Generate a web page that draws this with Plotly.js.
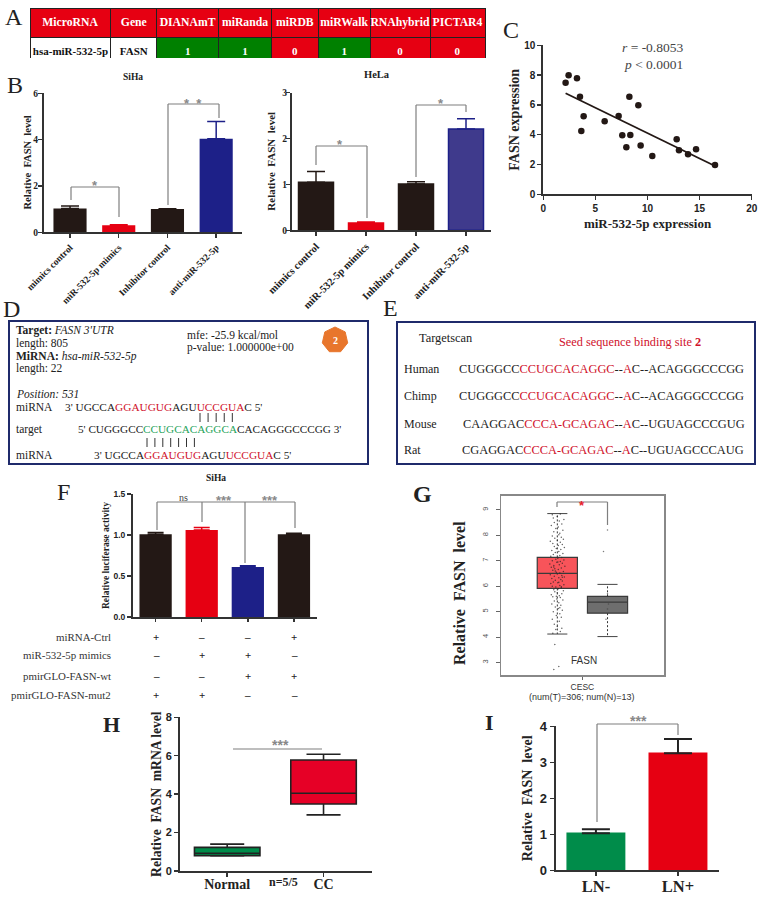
<!DOCTYPE html>
<html>
<head>
<meta charset="utf-8">
<script src="https://cdn.plot.ly/plotly-3.0.1.min.js"></script>
<style>body{margin:0;background:#fff}#fig{width:761px;height:897px}</style>
</head>
<body>
<div id="fig"></div>
<script>
// DATA
// A: prediction table
let table_headers = ["MicroRNA", "Gene", "DIANAmT", "miRanda", "miRDB", "miRWalk", "RNAhybrid", "PICTAR4"]
let table_row = ["hsa-miR-532-5p", "FASN", "1", "1", "0", "1", "0", "0"]
let table_widths = [81, 46, 62, 53, 47, 52, 60, 55]

// B: qPCR bars
let b_categories = ["mimics control", "miR-532-5p mimics", "Inhibitor control", "anti-miR-532-5p"]
let siha_values = [1.03, 0.30, 1.01, 4.04]
let siha_errors = [0.11, 0.03, 0.01, 0.74]
let hela_values = [1.05, 0.16, 1.01, 2.21]
let hela_errors = [0.23, 0.02, 0.05, 0.22]

// C: correlation
let c_mir = [2.14, 2.43, 3.23, 3.52, 3.87, 3.65, 5.89, 7.23, 7.58, 8.35, 8.26, 9.12, 7.97, 9.34, 10.46, 12.8, 13.02, 13.89, 14.66, 16.48]
let c_fasn = [7.49, 7.99, 7.79, 6.55, 5.23, 4.25, 4.9, 5.26, 3.96, 3.98, 6.55, 5.97, 3.15, 3.27, 2.57, 3.69, 2.95, 2.68, 3.02, 1.97]
let c_fit_x = [2.14, 16.48]
let c_fit_y = [6.78, 1.9]

// F: luciferase
let f_categories = ["Group 1", "Group 2", "Group 3", "Group 4"]
let f_values = [1.01, 1.06, 0.61, 1.01]
let f_errors = [0.02, 0.03, 0.015, 0.01]
let f_row_labels = ["miRNA-Ctrl", "miR-532-5p mimics", "pmirGLO-FASN-wt", "pmirGLO-FASN-mut2"]
let f_row_marks = [["+", "–", "–", "+"], ["–", "+", "+", "–"], ["–", "–", "+", "+"], ["+", "+", "–", "–"]]

// G: GEPIA box plot
let g_q1 = [5.91, 4.94]
let g_median = [6.5, 5.37]
let g_q3 = [7.13, 5.6]
let g_lower = [4.12, 4.02]
let g_upper = [8.85, 6.07]
let g_tumor_x = [-0.05, -0.07, 0.03, -0.09, 0.06, -0.03, 0.09, 0, -0.06, 0.04, -0.1, 0.08, -0.02, 0.05, -0.08, 0.1, 0.02, -0.04, 0.07, -0.11,
  0.03, -0.06, 0.11, -0.01, 0.06, -0.09, 0.04, -0.12, 0.09, 0, -0.05, 0.12, -0.07, 0.02, 0.08, -0.03, -0.1, 0.05, 0.13, -0.13,
  0.01, -0.08, 0.1, -0.04, 0.07, -0.11, 0.03, 0.14, -0.06, 0.09, -0.14, 0, 0.05, -0.02, 0.12, -0.09, 0.02, -0.05, 0.08, -0.12,
  0.15, -0.07, 0.04, -0.15, 0.1, -0.01, 0.06, -0.1, 0.13, -0.03, 0.01, 0.09, -0.13, 0.05, -0.08, 0.11, -0.04, 0.03, -0.11, 0.07,
  -0.02, 0.14, -0.06, 0.02, 0.1, -0.09, 0.06, -0.14, 0, 0.12, -0.05, 0.08, -0.1, 0.03, 0.05, -0.07, 0.11, -0.03, 0.02, -0.12,
  0.09, -0.06, 0.04, 0.13, -0.08, 0, -0.1, 0.06, 0.1, -0.04, 0.03, -0.07, 0.08, 0.01, -0.02, 0.05]
let g_tumor_y = [3.71, 2.73, 2.85, 4.15, 4.22, 4.3, 4.35, 4.42, 4.5, 4.62, 4.7, 4.78, 4.85, 4.92, 5.0, 5.05, 5.12, 5.18, 5.25, 5.3,
  5.35, 5.42, 5.46, 5.5, 5.55, 5.58, 5.62, 5.66, 5.7, 5.74, 5.78, 5.82, 5.86, 5.9, 5.94, 5.97, 6.0, 6.03, 6.06, 6.1,
  6.13, 6.16, 6.2, 6.23, 6.26, 6.3, 6.33, 6.36, 6.39, 6.42, 6.45, 6.48, 6.52, 6.55, 6.58, 6.62, 6.65, 6.68, 6.71, 6.74,
  6.78, 6.81, 6.84, 6.87, 6.9, 6.94, 6.97, 7.0, 7.03, 7.06, 7.1, 7.13, 7.17, 7.2, 7.24, 7.28, 7.32, 7.36, 7.4, 7.44,
  7.48, 7.52, 7.56, 7.6, 7.64, 7.68, 7.72, 7.76, 7.8, 7.84, 7.88, 7.92, 7.97, 8.02, 8.08, 8.14, 8.2, 8.26, 8.32, 8.38,
  8.44, 8.5, 8.56, 8.62, 8.68, 8.74, 8.8, 8.83, 6.35, 6.6, 6.15, 6.75, 5.98, 6.95, 5.6, 5.15]
let g_normal_x = [1, 0.92, 1, 1, 0.97, 1.02]
let g_normal_y = [8.21, 7.36, 5.7, 5.1, 4.7, 5.3]

// H: mRNA box plot
let h_categories = ["Normal", "CC"]
let h_q1 = [0.8, 3.49]
let h_median = [0.92, 4.05]
let h_q3 = [1.23, 5.78]
let h_lower = [0.78, 2.92]
let h_upper = [1.4, 6.08]

// I: lymph node bars
let i_categories = ["LN-", "LN+"]
let i_values = [1.03, 3.25]
let i_errors = [0.11, 0.4]

// HELPERS (page pixels to paper fractions)
const W = 761, H = 897
const SERIF = "Liberation Serif", SANS = "Liberation Sans"
const INK = "#231815", RED = "#e60012", NAVY = "#1d2088", GREEN = "#008000", BRACKET = "#7f7f7f"
const fx = px => px / W
const fy = px => 1 - px / H
const NB = "\u00a0\u00a0"

let annotations = []
let shapes = []

function note(x, y, text, size, opts) {
  opts = opts || {}
  annotations.push({
    xref: "paper", yref: "paper", x: fx(x), y: fy(y), text: text, showarrow: false,
    xanchor: opts.anchor || "left", yanchor: "middle", textangle: opts.angle || 0,
    borderpad: 0,
    font: { family: opts.family || SERIF, size: size, color: opts.color || "#222", weight: opts.weight || 400 }
  })
}

function seg(x0, y0, x1, y1, color, width) {
  shapes.push({
    type: "line", xref: "paper", yref: "paper", x0: fx(x0), y0: fy(y0), x1: fx(x1), y1: fy(y1),
    line: { color: color || BRACKET, width: width || 1.2 }
  })
}

function bracket(xa, ya, ytop, xb, yb) {
  seg(xa, ya, xa, ytop)
  seg(xa, ytop, xb, ytop)
  seg(xb, ytop, xb, yb)
}

function stars(x, y, text, size, color) {
  note(x, y, text, size || 13, { anchor: "center", family: SANS, color: color || "#888", weight: 700 })
}

function box(x0, y0, x1, y1) {
  shapes.push({
    type: "rect", xref: "paper", yref: "paper", x0: fx(x0), y0: fy(y0), x1: fx(x1), y1: fy(y1),
    line: { color: "#1f2a6b", width: 2 }
  })
}

function x_axis(left, right, anchor, extra) {
  return Object.assign({
    domain: [fx(left), fx(right)], anchor: anchor, showgrid: false, zeroline: false, showline: true,
    linecolor: "#333", linewidth: 2, ticks: "outside", ticklen: 4, tickwidth: 1.5, tickcolor: "#333", fixedrange: true
  }, extra)
}

function y_axis(bottom, top, anchor, extra) {
  return Object.assign({
    domain: [fy(bottom), fy(top)], anchor: anchor, showgrid: false, zeroline: false, showline: true,
    linecolor: "#333", linewidth: 2, ticks: "outside", ticklen: 4, tickwidth: 1.5, tickcolor: "#333", fixedrange: true
  }, extra)
}

function axis_title(text, size, standoff, family) {
  return { text: text, standoff: standoff, font: { family: family || SERIF, size: size, color: "#222", weight: 700 } }
}

// One trace per bar so that each error bar takes its own colour
function bars(categories, values, errors, colors, xa, ya, width, cap, thick, lines, err_colors) {
  return categories.map((c, i) => ({
    type: "bar", x: [c], y: [values[i]], xaxis: xa, yaxis: ya, width: width, showlegend: false,
    marker: { color: colors[i], line: { color: lines ? lines[i] : colors[i], width: lines ? 1.5 : 0 } },
    error_y: {
      type: "data", symmetric: false, array: [errors[i]], arrayminus: [0], thickness: thick, width: cap,
      color: err_colors ? err_colors[i] : (lines ? lines[i] : colors[i])
    }
  }))
}

const tick_bold = (size, family) => ({ family: family || SERIF, size: size, color: "#222", weight: 700 })

// TRACES
let data = []

// A
data.push({
  type: "table",
  domain: { x: [fx(30), fx(486)], y: [fy(59), fy(8)] },
  columnwidth: table_widths,
  header: {
    values: table_headers.map(h => "<b>" + h + "</b>"), height: 28, align: "center",
    fill: { color: RED }, line: { color: "#222", width: 1 },
    font: { family: SERIF, size: 11.7, color: "#fff" }
  },
  cells: {
    values: table_row.map(v => ["<b>" + v + "</b>"]), height: 23, align: "center",
    fill: { color: table_row.map((v, i) => i < 2 ? "#fff" : (v === "1" ? GREEN : RED)) },
    line: { color: "#222", width: 1 },
    font: { family: SERIF, size: 11, color: table_row.map((v, i) => i < 2 ? "#111" : "#fff") }
  }
})

// B
data = data.concat(bars(b_categories, siha_values, siha_errors, [INK, RED, INK, NAVY], "x", "y", 0.68, 9, 1.5))
data = data.concat(bars(b_categories, hela_values, hela_errors, [INK, RED, INK, "#3f3a8c"], "x2", "y2", 0.7, 9, 1.5, [INK, RED, INK, NAVY]))

// C
data.push({ type: "scatter", mode: "markers", x: c_mir, y: c_fasn, xaxis: "x3", yaxis: "y3", showlegend: false, marker: { color: INK, size: 6.5 } })
data.push({ type: "scatter", mode: "lines", x: c_fit_x, y: c_fit_y, xaxis: "x3", yaxis: "y3", showlegend: false, line: { color: INK, width: 1.8 } })

// F
data = data.concat(bars(f_categories, f_values, f_errors, [INK, RED, NAVY, INK], "x4", "y4", 0.7, 8, 1.5))

// G
;[0, 1].forEach(i => {
  data.push({
    type: "box", x: [i], q1: [g_q1[i]], median: [g_median[i]], q3: [g_q3[i]], lowerfence: [g_q1[i]], upperfence: [g_q3[i]],
    xaxis: "x5", yaxis: "y5", width: 0.8, whiskerwidth: 0, showlegend: false, boxpoints: false,
    fillcolor: i === 0 ? "#f8545a" : "#6e6e6e", line: { color: "#3a3a3a", width: 1.2 }
  })
  data.push({
    type: "scatter", mode: "lines", xaxis: "x5", yaxis: "y5", showlegend: false,
    x: [i, i, null, i, i], y: [g_q3[i], g_upper[i], null, g_q1[i], g_lower[i]],
    line: { color: "#333", width: 1, dash: "2px,2px" }
  })
  data.push({
    type: "scatter", mode: "lines", xaxis: "x5", yaxis: "y5", showlegend: false,
    x: [i - 0.2, i + 0.2, null, i - 0.2, i + 0.2], y: [g_upper[i], g_upper[i], null, g_lower[i], g_lower[i]],
    line: { color: "#444", width: 1 }
  })
})
data.push({ type: "scatter", mode: "markers", x: g_tumor_x, y: g_tumor_y, xaxis: "x5", yaxis: "y5", showlegend: false, marker: { color: "#222", size: 1.5, opacity: 0.7 } })
data.push({ type: "scatter", mode: "markers", x: g_normal_x, y: g_normal_y, xaxis: "x5", yaxis: "y5", showlegend: false, marker: { color: "#444", size: 1.5, opacity: 0.7 } })

// H
let h_colors = ["#008c4a", "#e60026"]
h_categories.forEach((c, i) => {
  data.push({
    type: "box", x: [c], q1: [h_q1[i]], median: [h_median[i]], q3: [h_q3[i]], lowerfence: [h_lower[i]], upperfence: [h_upper[i]],
    xaxis: "x6", yaxis: "y6", width: 0.68, whiskerwidth: 0.52, showlegend: false, boxpoints: false,
    fillcolor: h_colors[i], line: { color: "#222", width: 1.6 }
  })
})

// I
data = data.concat(bars(i_categories, i_values, i_errors, ["#008c4a", RED], "x7", "y7", 0.7, 14, 2, ["#008c4a", RED], ["#222", "#222"]))

// ANNOTATIONS
// Panel letters
note(14, 17, "A", 24, { anchor: "center" })
note(15, 85, "B", 24, { anchor: "center" })
note(511, 30, "C", 24, { anchor: "center" })
note(12, 309, "D", 24, { anchor: "center" })
note(390, 308, "E", 24, { anchor: "center" })
note(63, 492, "F", 24, { anchor: "center" })
note(422, 494, "G", 24, { anchor: "center", weight: 700 })
note(111, 724, "H", 22, { anchor: "center", weight: 700 })
note(489, 722, "I", 22, { anchor: "center", weight: 700 })

// B
note(133, 77, "SiHa", 9.5, { anchor: "center", weight: 700 })
note(377, 75, "HeLa", 10.5, { anchor: "center", weight: 700 })
note(26.5, 162, "Relative" + NB + "FASN" + NB + "level", 10.5, { anchor: "center", angle: -90, weight: 700 })
note(270.7, 161, "Relative" + NB + "FASN" + NB + "level", 11, { anchor: "center", angle: -90, weight: 700 })
bracket(71, 200, 187, 119, 217)
stars(95, 186, "*")
bracket(168, 205, 104, 219, 118)
stars(193, 104, "*  *")
bracket(316, 165, 146, 367, 218)
stars(340, 145, "*")
bracket(416, 177, 105, 466, 112)
stars(441, 103, "*")

// C
note(653, 48, "<i>r</i> = -0.8053", 13.5, { anchor: "center", color: "#444" })
note(653, 65, "<i>p</i> &lt; 0.0001", 13.5, { anchor: "center", color: "#444" })

// D
box(9, 321, 368, 464)
note(15, 330, "<b>Target:</b> <i>FASN 3'UTR</i>", 11.5)
note(15, 343, "length: 805", 11.5)
note(15, 356, "<b>MiRNA:</b> <i>hsa-miR-532-5p</i>", 11.5)
note(15, 368, "length: 22", 11.5)
note(15, 394, "<i>Position: 531</i>", 11.5)
note(186, 335, "mfe: -25.9 kcal/mol", 11.5)
note(186, 348, "p-value: 1.000000e+00", 11.5)

const R = c => `<span style="color:#d0112b">${c}</span>`
const G = c => `<span style="color:#1fa35b">${c}</span>`
const mirna_line = "3' UGCCA" + R("GGAUGUG") + "AGU" + R("UCCGUA") + "C 5'"
note(15, 407, "miRNA", 11.5)
note(64, 407, mirna_line, 11.3)
note(15, 429, "target", 11.5)
note(77, 429, "5' CUGGGCC" + G("CCUGCACAGGCA") + "CACAGGGCCCGG 3'", 11.2)
note(15, 455, "miRNA", 11.5)
note(93, 455, mirna_line, 11.3)
for (let i = 0; i < 5; i++) seg(200 + i * 8.08, 413, 200 + i * 8.08, 422, "#333", 1)
for (let i = 0; i < 7; i++) seg(147 + i * 7.9, 438, 147 + i * 7.9, 447, "#333", 1)

// orange badge
let badge_path = ""
for (let i = 0; i < 7; i++) {
  let a = -Math.PI / 2 + i * 2 * Math.PI / 7
  badge_path += (i ? "L" : "M") + fx(335 + 13 * Math.cos(a)) + "," + fy(340 + 13 * Math.sin(a))
}
shapes.push({ type: "path", xref: "paper", yref: "paper", path: badge_path + "Z", fillcolor: "#e8762c", line: { color: "#e8762c", width: 1 } })
note(335, 340, "2", 10, { anchor: "center", color: "#fff", weight: 700 })

// E
box(397, 322, 755, 464)
note(418, 338, "Targetscan", 12.4)
note(558, 342, R("Seed sequence binding site <b>2</b>"), 12.3)
const seq_rows = [
  ["Human", 369, 458, "CUGGGCC", "CCUGCACAGGC", "C--ACAGGGCCCGG"],
  ["Chimp", 396, 458, "CUGGGCC", "CCUGCACAGGC", "C--ACAGGGCCCGG"],
  ["Mouse", 424, 462, "CAAGGAC", "CCCA-GCAGAC", "C--UGUAGCCCGUG"],
  ["Rat", 450, 461, "CGAGGAC", "CCCA-GCAGAC", "C--UGUAGCCCAUG"]
]
seq_rows.forEach(r => {
  note(403, r[1], r[0], 12)
  note(r[2], r[1], r[3] + R(r[4]) + "--" + R("A") + r[5], 12.4)
})

// F
note(216, 478, "SiHa", 9.5, { anchor: "center", weight: 700 })
seg(157, 530, 157, 502)
seg(157, 502, 295, 502)
seg(295, 502, 295, 528)
seg(202, 502, 202, 522)
seg(245, 502, 245, 563)
note(183, 497, "ns", 10, { anchor: "center", color: "#444" })
stars(224, 501, "***")
stars(270, 501, "***")
let f_row_y = [637, 655, 676, 695]
let f_col_x = [156, 202, 248, 294]
f_row_labels.forEach((label, r) => {
  note(112, f_row_y[r], label, 10.9, { anchor: "right", color: "#333" })
  f_row_marks[r].forEach((m, c) => note(f_col_x[c], f_row_y[r], m, 11, { anchor: "center", weight: 700 }))
})

// G
note(459, 593, "Relative" + NB + "FASN" + NB + "level", 16, { anchor: "center", angle: -90, weight: 700 })
bracket(557, 507, 502, 607.5, 525)
stars(582, 505, "*", 13, "#e8202a")
note(584, 660, "FASN", 10, { anchor: "center", family: SANS, color: "#333" })
note(582, 696.5, "(num(T)=306; num(N)=13)", 9, { anchor: "center", family: SANS, color: "#333" })

// H
seg(233, 749, 322, 749)
stars(280, 745, "***", 14)
note(283, 882, "n=5/5", 12, { anchor: "center", weight: 700 })

// I
bracket(597, 822, 724, 678, 735)
stars(638, 721, "***", 14)

// LAYOUT
let layout = {
  width: W, height: H,
  margin: { l: 0, r: 0, t: 0, b: 0 },
  paper_bgcolor: "#fff", plot_bgcolor: "rgba(0,0,0,0)",
  barmode: "overlay", showlegend: false,
  annotations: annotations, shapes: shapes,
  xaxis: x_axis(44, 242, "y", { type: "category", range: [-0.534, 3.53], tickangle: -45, categoryarray: b_categories, tickfont: tick_bold(9.5) }),
  yaxis: y_axis(232.3, 93.3, "x", { range: [0, 6], tickvals: [0, 2, 4, 6], ticklabelstandoff: -2, tickfont: tick_bold(9.5) }),
  xaxis2: x_axis(292, 491, "y2", { type: "category", range: [-0.48, 3.5], tickangle: -45, categoryarray: b_categories, tickfont: tick_bold(10.5) }),
  yaxis2: y_axis(230.3, 92.7, "x2", { range: [0, 3], tickvals: [0, 1, 2, 3], ticklabelstandoff: -3, tickfont: tick_bold(9.5) }),
  xaxis3: x_axis(543.3, 751.7, "y3", { range: [0, 20], tickvals: [0, 5, 10, 15, 20], tickfont: tick_bold(10, SANS), title: axis_title("miR-532-5p expression", 13, 6) }),
  yaxis3: y_axis(194.3, 45.3, "x3", { range: [0, 10], tickvals: [0, 2, 4, 6, 8, 10], tickfont: tick_bold(10, SANS), title: axis_title("FASN expression", 14, 1) }),
  xaxis4: x_axis(133, 317, "y4", { type: "category", range: [-0.49, 3.5], categoryarray: f_categories, showticklabels: false, ticklen: 3 }),
  yaxis4: y_axis(617, 494, "x4", { range: [0, 1.5], tickvals: [0, 0.5, 1, 1.5], tickformat: ".1f", tickfont: tick_bold(8.5, SANS), title: axis_title("Relative luciferase activity", 9.5, 2) }),
  xaxis5: x_axis(501.3, 664, "y5", { range: [-1.116, 2.125], tickvals: [0.5], ticktext: ["CESC"], ticklen: 3, linecolor: "#888", linewidth: 1.5, mirror: true, tickcolor: "#666", tickwidth: 1, tickfont: { family: SANS, size: 8.5, color: "#333" } }),
  yaxis5: y_axis(675.3, 495.5, "x5", { range: [2.5, 9.56], tickvals: [3, 4, 5, 6, 7, 8, 9], tickangle: -90, ticklabelstandoff: 5, linecolor: "#888", linewidth: 1.5, mirror: true, tickcolor: "#666", tickwidth: 1, tickfont: { family: SANS, size: 7.5, color: "#555" } }),
  xaxis6: x_axis(180, 371.7, "y6", { type: "category", range: [-0.49, 1.5], categoryarray: h_categories, ticklabelstandoff: -5, tickfont: tick_bold(14) }),
  yaxis6: y_axis(871, 717.3, "x6", { range: [0, 8], tickvals: [0, 2, 4, 6, 8], tickfont: tick_bold(11, SANS), title: axis_title("Relative" + NB + "FASN" + NB + "mRNA level", 13.6, 1) }),
  xaxis7: x_axis(555.7, 719, "y7", { type: "category", range: [-0.49, 1.5], categoryarray: i_categories, ticklabelstandoff: -4, tickfont: tick_bold(16.5) }),
  yaxis7: y_axis(870.3, 726.3, "x7", { range: [0, 4], tickvals: [0, 1, 2, 3, 4], tickfont: tick_bold(13, SANS), title: axis_title("Relative" + NB + "FASN" + NB + "level", 14, 4) })
}

Plotly.newPlot("fig", data, layout, { staticPlot: true, displayModeBar: false })
</script>
</body>
</html>
